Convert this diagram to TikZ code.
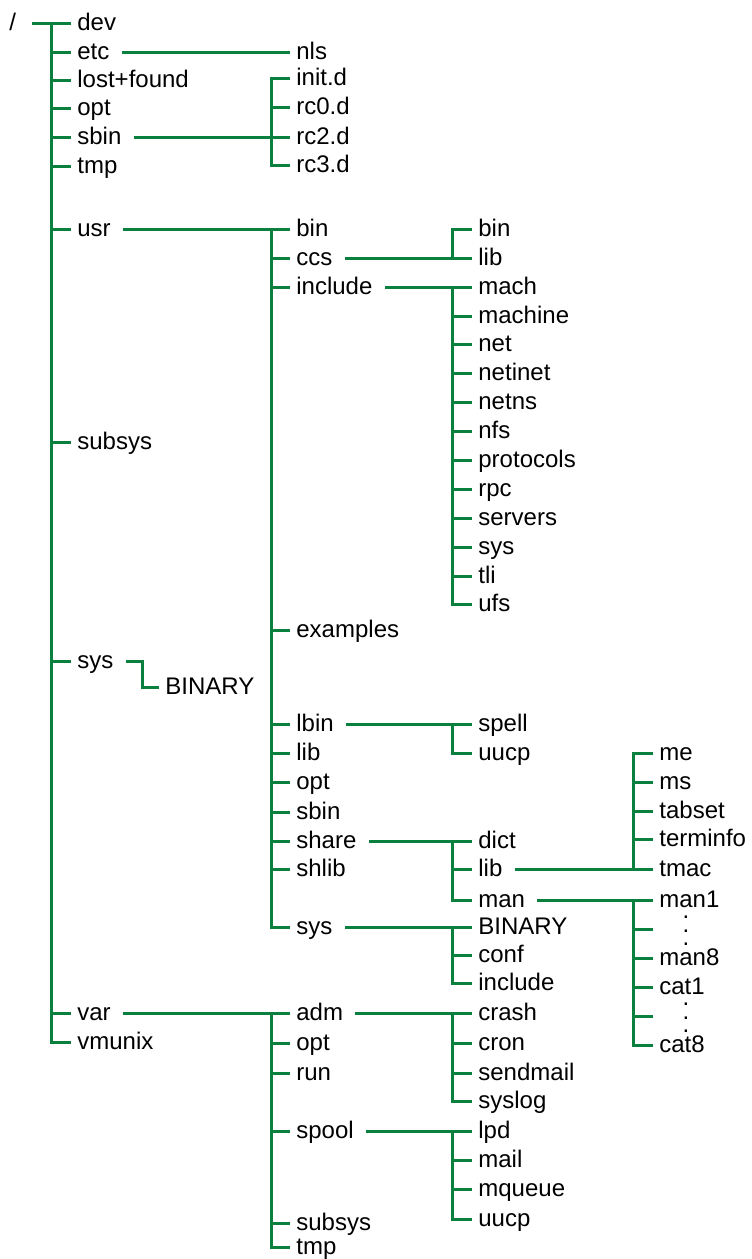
\documentclass[tikz,border=0pt]{standalone}
\usepackage{fontspec}
\setmainfont{Liberation Sans}
\usepackage{tikz}

\definecolor{treegreen}{RGB}{10,128,62}

\newcommand{\dotcolumn}{\vbox{\baselineskip6.8pt\lineskiplimit0pt\hbox{.}\hbox{.}\hbox{.}}}

\tikzset{
	dir/.style={anchor=west, inner xsep=3pt, inner ysep=0pt, text height=9pt, text depth=2pt, font=\fontsize{12}{14}\selectfont},
	link/.style={draw=treegreen, line width=1.5pt},
	dotmark/.style={inner sep=0pt, font=\fontsize{12}{14}\selectfont},
}

\begin{document}
\begin{tikzpicture}[x=0.5pt, y=-0.5pt]
		\useasboundingbox (0,0) rectangle (751,1259);
		
		\node[dir] (root) at (3,23) {/};
		\node[dir] (dev) at (71,23) {dev};
		\node[dir] (etc) at (71,52) {etc};
		\node[dir] (lostfound) at (71,80) {lost+found};
		\node[dir] (opt) at (71,108) {opt};
		\node[dir] (sbin) at (71,137) {sbin};
		\node[dir] (tmp) at (71,166) {tmp};
		\node[dir] (usr) at (71,229) {usr};
		\node[dir] (subsys) at (71,442) {subsys};
		\node[dir] (sys) at (71,661) {sys};
		\node[dir] (var) at (71,1013) {var};
		\node[dir] (vmunix) at (71,1042) {vmunix};
		
		\node[dir] (binary) at (159,687) {BINARY};
		
		\node[dir] (nls) at (290,52) {nls};
		\node[dir] (initd) at (290,78) {init.d};
		\node[dir] (rczero) at (290,107) {rc0.d};
		\node[dir] (rctwo) at (290,137) {rc2.d};
		\node[dir] (rcthree) at (290,165) {rc3.d};
		
		\node[dir] (usrbin) at (290,229) {bin};
		\node[dir] (ccs) at (290,258) {ccs};
		\node[dir] (include) at (290,287) {include};
		\node[dir] (examples) at (290,630) {examples};
		\node[dir] (lbin) at (290,724) {lbin};
		\node[dir] (usrlib) at (290,753) {lib};
		\node[dir] (usropt) at (290,782) {opt};
		\node[dir] (usrsbin) at (290,812) {sbin};
		\node[dir] (share) at (290,841) {share};
		\node[dir] (shlib) at (290,869) {shlib};
		\node[dir] (usrsys) at (290,927) {sys};
		
		\node[dir] (adm) at (290,1013) {adm};
		\node[dir] (varopt) at (290,1043) {opt};
		\node[dir] (run) at (290,1073) {run};
		\node[dir] (spool) at (290,1131) {spool};
		\node[dir] (varsubsys) at (290,1223) {subsys};
		\node[dir] (vartmp) at (290,1247) {tmp};
		
		\node[dir] (ccsbin) at (472,229) {bin};
		\node[dir] (ccslib) at (472,258) {lib};
		\node[dir] (mach) at (472,287) {mach};
		\node[dir] (machine) at (472,316) {machine};
		\node[dir] (net) at (472,344) {net};
		\node[dir] (netinet) at (472,373) {netinet};
		\node[dir] (netns) at (472,402) {netns};
		\node[dir] (nfs) at (472,431) {nfs};
		\node[dir] (protocols) at (472,460) {protocols};
		\node[dir] (rpc) at (472,489) {rpc};
		\node[dir] (servers) at (472,518) {servers};
		\node[dir] (inclsys) at (472,547) {sys};
		\node[dir] (tli) at (472,576) {tli};
		\node[dir] (ufs) at (472,604) {ufs};
		
		\node[dir] (spell) at (472,724) {spell};
		\node[dir] (lbinuucp) at (472,753) {uucp};
		\node[dir] (dict) at (472,841) {dict};
		\node[dir] (sharelib) at (472,869) {lib};
		\node[dir] (man) at (472,900) {man};
		\node[dir] (sysbinary) at (472,927) {BINARY};
		\node[dir] (conf) at (472,955) {conf};
		\node[dir] (sysinclude) at (472,983) {include};
		
		\node[dir] (crash) at (472,1013) {crash};
		\node[dir] (cron) at (472,1043) {cron};
		\node[dir] (sendmail) at (472,1073) {sendmail};
		\node[dir] (syslog) at (472,1101) {syslog};
		\node[dir] (lpd) at (472,1131) {lpd};
		\node[dir] (mail) at (472,1160) {mail};
		\node[dir] (mqueue) at (472,1189) {mqueue};
		\node[dir] (spooluucp) at (472,1219) {uucp};
		
		\node[dir] (me) at (653,753) {me};
		\node[dir] (ms) at (653,782) {ms};
		\node[dir] (tabset) at (653,811) {tabset};
		\node[dir] (terminfo) at (653,839) {terminfo};
		\node[dir] (tmac) at (653,869) {tmac};
		\node[dir] (manone) at (653,900) {man1};
		\coordinate (mandots) at (653,929);
		\node[dotmark] (mandotmark) at (686,931) {\dotcolumn};
		\node[dir] (maneight) at (653,958) {man8};
		\node[dir] (catone) at (653,987) {cat1};
		\coordinate (catdots) at (653,1016);
		\node[dotmark] (catdotmark) at (686,1018) {\dotcolumn};
		\node[dir] (cateight) at (653,1045) {cat8};
		
		\coordinate (rootbus) at (51,23);
		\coordinate (sbinbus) at (271,78);
		\coordinate (usrbus) at (271,229);
		\coordinate (varbus) at (271,1013);
		\coordinate (ccsbus) at (452,229);
		\coordinate (inclbus) at (452,287);
		\coordinate (lbinbus) at (452,724);
		\coordinate (sharebus) at (452,841);
		\coordinate (sysbus) at (452,927);
		\coordinate (admbus) at (452,1013);
		\coordinate (spoolbus) at (452,1131);
		\coordinate (libbus) at (633,753);
		\coordinate (manbus) at (633,900);
		
		\draw[link, shorten <=5pt] (root) -- (dev);
		\draw[link] (rootbus) |- (vmunix.west);
		\foreach \n in {etc,lostfound,opt,sbin,tmp,usr,subsys,sys,var}
		\draw[link] (rootbus |- \n.west) -- (\n.west);
		
		\draw[link, shorten <=3pt] (etc) -- (nls);
		
		\draw[link, shorten <=3pt] (sbin) -- (rctwo);
		\draw[link] (initd.west) -- (sbinbus) |- (rcthree.west);
		\draw[link] (sbinbus |- rczero.west) -- (rczero.west);
		
		\draw[link, shorten <=3pt] (sys.east) -- ++(23,0) |- (binary.west);
		
		\draw[link, shorten <=3pt] (usr) -- (usrbin);
		\draw[link] (usrbus) |- (usrsys.west);
		\foreach \n in {ccs,include,examples,lbin,usrlib,usropt,usrsbin,share,shlib}
		\draw[link] (usrbus |- \n.west) -- (\n.west);
		
		\draw[link, shorten <=3pt] (ccs) -- (ccslib);
		\draw[link] (ccsbin.west) -- (ccsbus) |- (ccslib.west);
		
		\draw[link, shorten <=3pt] (include) -- (mach);
		\draw[link] (inclbus) |- (ufs.west);
		\foreach \n in {machine,net,netinet,netns,nfs,protocols,rpc,servers,inclsys,tli}
		\draw[link] (inclbus |- \n.west) -- (\n.west);
		
		\draw[link, shorten <=3pt] (lbin) -- (spell);
		\draw[link] (lbinbus) |- (lbinuucp.west);
		
		\draw[link, shorten <=3pt] (share) -- (dict);
		\draw[link] (sharebus) |- (man.west);
		\draw[link] (sharebus |- sharelib.west) -- (sharelib.west);
		
		\draw[link, shorten <=3pt] (usrsys) -- (sysbinary);
		\draw[link] (sysbus) |- (sysinclude.west);
		\draw[link] (sysbus |- conf.west) -- (conf.west);
		
		\draw[link, shorten <=3pt] (sharelib) -- (tmac);
		\draw[link] (me.west) -- (libbus) -- (libbus |- tmac.west);
		\foreach \n in {ms,tabset,terminfo}
		\draw[link] (libbus |- \n.west) -- (\n.west);
		
		\draw[link, shorten <=3pt] (man) -- (manone);
		\draw[link] (manbus) |- (cateight.west);
		\draw[link] (manbus |- mandots) -- (mandots);
		\draw[link] (manbus |- catdots) -- (catdots);
		\foreach \n in {maneight,catone}
		\draw[link] (manbus |- \n.west) -- (\n.west);
		
		\draw[link, shorten <=3pt] (var) -- (adm);
		\draw[link] (varbus) |- (vartmp.west);
		\foreach \n in {varopt,run,spool,varsubsys}
		\draw[link] (varbus |- \n.west) -- (\n.west);
		
		\draw[link, shorten <=3pt] (adm) -- (crash);
		\draw[link] (admbus) |- (syslog.west);
		\foreach \n in {cron,sendmail}
		\draw[link] (admbus |- \n.west) -- (\n.west);
		
		\draw[link, shorten <=3pt] (spool) -- (lpd);
		\draw[link] (spoolbus) |- (spooluucp.west);
		\foreach \n in {mail,mqueue}
		\draw[link] (spoolbus |- \n.west) -- (\n.west);
\end{tikzpicture}
\end{document}
